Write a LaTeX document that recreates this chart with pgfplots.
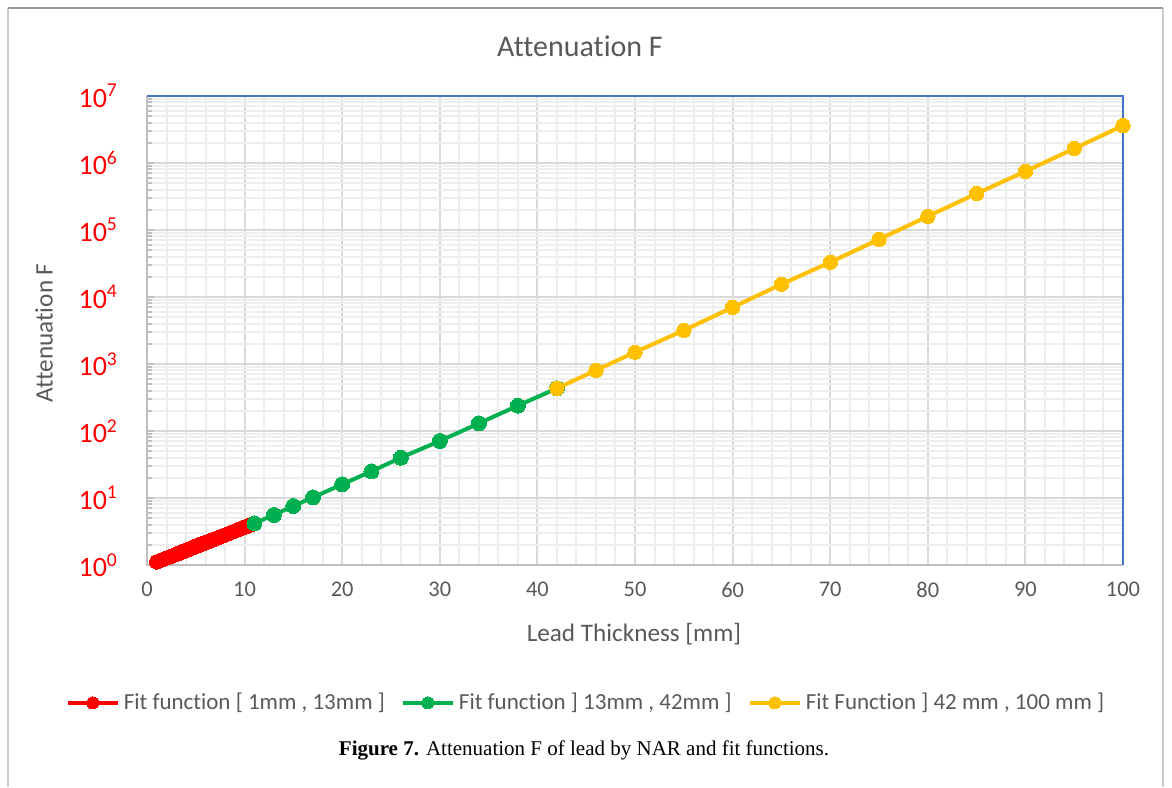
\documentclass[border=0pt]{standalone}
\usepackage{pgfplots}
\pgfplotsset{compat=1.18}
\usepackage{fontspec}
\setmainfont{Carlito}[Ligatures=NoCommon]
\newfontfamily\capfont{Liberation Serif}

\definecolor{txtgray}{HTML}{595959}
\definecolor{majgrid}{HTML}{D9D9D9}
\definecolor{mingrid}{HTML}{EEEEEE}
\definecolor{spinegray}{HTML}{BFBFBF}
\definecolor{spineblue}{HTML}{4472C4}
\definecolor{fitred}{HTML}{FF0000}
\definecolor{fitgreen}{HTML}{00B050}
\definecolor{fityellow}{HTML}{FFC000}

% attenuation of lead, three fit ranges
\pgfplotstableread{
x y
1.00 1.110
1.25 1.148
1.50 1.186
1.75 1.226
2.00 1.268
2.25 1.311
2.50 1.355
2.75 1.401
3.00 1.448
3.25 1.497
3.50 1.547
3.75 1.599
4.00 1.653
4.25 1.709
4.50 1.767
4.75 1.827
5.00 1.888
5.25 1.952
5.50 2.018
5.75 2.086
6.00 2.156
6.25 2.229
6.50 2.305
6.75 2.382
7.00 2.463
7.25 2.546
7.50 2.632
7.75 2.721
8.00 2.813
8.25 2.907
8.50 3.006
8.75 3.107
9.00 3.212
9.25 3.320
9.50 3.432
9.75 3.548
10.00 3.668
10.25 3.792
10.50 3.920
10.75 4.052
11.00 4.189
}\fitA

\pgfplotstableread{
x y
11 4.19
13 5.58
15 7.6
17 10.2
20 16.0
23 25.0
26 39.9
30 70.9
34 130
38 239
42 434
}\fitB

\pgfplotstableread{
x y
42 434
46 805
50 1500
55 3180
60 7000
65 15500
70 33000
75 72600
80 160000
85 350000
90 750000
95 1640000
100 3620000
}\fitC

\begin{document}
\begin{tikzpicture}[x=1pt,y=1pt]
\useasboundingbox (0,0) rectangle (586,393.5);
% chart area frame
\draw[color=spinegray!80, line width=1.2pt] (4,0) -- (4,389.5);
\draw[color=spinegray!80, line width=1.2pt] (581.5,0) -- (581.5,389.5);
\draw[color=black!40, line width=1pt] (4,389.5) -- (581.5,389.5);

\begin{axis}[
  at={(73.5pt,111pt)}, anchor=south west,
  scale only axis, width=488pt, height=234.5pt,
  ymode=log,
  xmin=0, xmax=100, ymin=1, ymax=1e7,
  xtick={0,10,...,100},
  xticklabels={0,10,20,30,40,50,60,70,80,90,100},
  minor x tick num=4,
  ytick={1,10,100,1000,10000,100000,1000000,10000000},
  yticklabels={10\textsuperscript{0},10\textsuperscript{1},10\textsuperscript{2},10\textsuperscript{3},10\textsuperscript{4},10\textsuperscript{5},10\textsuperscript{6},10\textsuperscript{7}},
  grid=both,
  major grid style={color=majgrid, line width=1pt},
  minor grid style={color=mingrid, line width=1pt},
  axis line style={draw=none},
  tick align=inside,
  ytick pos=left,
  xtick style={draw=none},
  minor x tick style={draw=none},
  ytick style={color=spinegray, line width=1pt},
  major tick length=3.5pt, minor tick length=2.5pt,
  xticklabel style={font=\fontsize{11.2}{13}\selectfont, text=txtgray, yshift=-5pt},
  yticklabel style={font=\fontsize{14}{16}\selectfont, text=fitred, xshift=-11pt},
  legend columns=3,
  legend style={at={(0.4508,-0.294)}, anchor=center, draw=none, fill=none,
    font=\fontsize{11.5}{13}\selectfont, text=txtgray,
    /tikz/every even column/.append style={column sep=6pt}},
  legend image code/.code={%
    \draw[mark repeat=2, mark phase=2, #1, mark size=3pt]
      plot coordinates {(0pt,0pt) (12.5pt,0pt) (25pt,0pt)};},
  clip=false,
]
\addplot[color=fitred, line width=2pt, mark=*, mark size=3.6pt,
  mark options={fill=fitred, draw=fitred, line width=0pt}] table[x=x,y=y] {\fitA};
\addlegendentry{Fit function [ 1mm , 13mm ]}
\addplot[color=fitgreen, line width=2pt, mark=*, mark size=3.75pt,
  mark options={fill=fitgreen, draw=fitgreen, line width=0pt}] table[x=x,y=y] {\fitB};
\addlegendentry{Fit function ] 13mm , 42mm ]}
\addplot[color=fityellow, line width=2pt, mark=*, mark size=3.6pt,
  mark options={fill=fityellow, draw=fityellow, line width=0pt}] table[x=x,y=y] {\fitC};
\addlegendentry{Fit Function ] 42 mm , 100 mm ]}
% plot area border
\draw[color=spinegray, line width=1.3pt] (rel axis cs:0,1) -- (rel axis cs:0,0) -- (rel axis cs:1,0);
\draw[color=spineblue, line width=1pt] (rel axis cs:0,1) -- (rel axis cs:1,1) -- (rel axis cs:1,0);
\end{axis}

\node[text=txtgray, font=\fontsize{15}{18}\selectfont] at (290,370.5) {Attenuation F};
\node[text=txtgray, font=\fontsize{12.6}{15}\selectfont, rotate=90] at (22,227) {Attenuation F};
\node[text=txtgray, font=\fontsize{12.6}{15}\selectfont] at (317,76.5) {Lead Thickness [mm]};
\node[font=\capfont\fontsize{10.5}{12}\selectfont] at (292,18.5) {\textbf{Figure 7.} Attenuation F of lead by NAR and fit functions.};
\end{tikzpicture}
\end{document}
